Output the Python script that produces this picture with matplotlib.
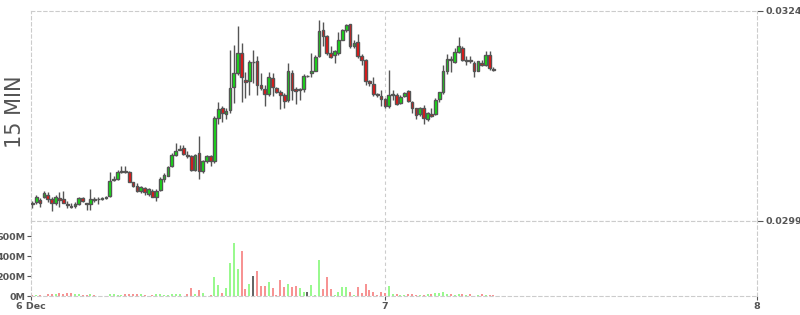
# Candlestick chart, 15 minute bars with volume underneath
import numpy as np
import pandas as pd
import matplotlib
matplotlib.use("Agg")
import matplotlib.pyplot as plt
import matplotlib.dates as mdates

# 15 minute candles starting 6 Dec 01:15
times = pd.date_range("2020-12-06 01:15", periods=120, freq="15min")

opens = [
    0.03011, 0.03013, 0.03015, 0.03019, 0.03021, 0.03016, 0.03011, 0.03017, 0.03016, 0.03010,
    0.03008, 0.03008, 0.03010, 0.03017, 0.03011, 0.03010, 0.03016, 0.03016, 0.03016, 0.03017,
    0.03020, 0.03039, 0.03040, 0.03048, 0.03050, 0.03048, 0.03036, 0.03032, 0.03026, 0.03029,
    0.03022, 0.03026, 0.03018, 0.03027, 0.03040, 0.03044, 0.03055, 0.03068, 0.03075, 0.03077,
    0.03069, 0.03067, 0.03051, 0.03071, 0.03049, 0.03061, 0.03067, 0.03061, 0.03113, 0.03125,
    0.03117, 0.03122, 0.03150, 0.03166, 0.03190, 0.03158, 0.03157, 0.03179, 0.03181, 0.03152,
    0.03147, 0.03141, 0.03160, 0.03148, 0.03143, 0.03140, 0.03134, 0.03166, 0.03147, 0.03146,
    0.03147, 0.03163, 0.03166, 0.03169, 0.03186, 0.03217, 0.03210, 0.03190, 0.03188, 0.03190,
    0.03206, 0.03217, 0.03224, 0.03198, 0.03203, 0.03186, 0.03182, 0.03157, 0.03153, 0.03141,
    0.03139, 0.03135, 0.03127, 0.03140, 0.03140, 0.03130, 0.03139, 0.03145, 0.03132, 0.03124,
    0.03117, 0.03124, 0.03112, 0.03117, 0.03117, 0.03135, 0.03143, 0.03169, 0.03183, 0.03179,
    0.03191, 0.03196, 0.03181, 0.03182, 0.03178, 0.03169, 0.03178, 0.03176, 0.03188, 0.03171,
]
highs = [
    0.03014, 0.03021, 0.03017, 0.03026, 0.03024, 0.03019, 0.03021, 0.03025, 0.03026, 0.03014,
    0.03011, 0.03013, 0.03019, 0.03018, 0.03012, 0.03028, 0.03018, 0.03019, 0.03019, 0.03020,
    0.03048, 0.03043, 0.03051, 0.03055, 0.03055, 0.03049, 0.03037, 0.03035, 0.03032, 0.03030,
    0.03029, 0.03028, 0.03028, 0.03042, 0.03047, 0.03056, 0.03071, 0.03083, 0.03080, 0.03080,
    0.03073, 0.03068, 0.03070, 0.03091, 0.03063, 0.03068, 0.03069, 0.03115, 0.03132, 0.03127,
    0.03125, 0.03194, 0.03200, 0.03222, 0.03202, 0.03167, 0.03182, 0.03194, 0.03186, 0.03166,
    0.03152, 0.03167, 0.03166, 0.03149, 0.03146, 0.03142, 0.03178, 0.03170, 0.03149, 0.03148,
    0.03165, 0.03164, 0.03190, 0.03188, 0.03229, 0.03227, 0.03211, 0.03198, 0.03194, 0.03215,
    0.03219, 0.03225, 0.03225, 0.03205, 0.03213, 0.03189, 0.03183, 0.03158, 0.03161, 0.03142,
    0.03146, 0.03137, 0.03170, 0.03146, 0.03142, 0.03140, 0.03144, 0.03146, 0.03133, 0.03125,
    0.03126, 0.03128, 0.03120, 0.03124, 0.03137, 0.03144, 0.03176, 0.03189, 0.03186, 0.03196,
    0.03209, 0.03198, 0.03186, 0.03186, 0.03180, 0.03181, 0.03182, 0.03192, 0.03192, 0.03173,
]
lows = [
    0.03005, 0.03010, 0.03007, 0.03017, 0.03013, 0.03002, 0.03009, 0.03007, 0.03011, 0.03006,
    0.03005, 0.03005, 0.03009, 0.03013, 0.03003, 0.03003, 0.03013, 0.03010, 0.03015, 0.03016,
    0.03019, 0.03038, 0.03039, 0.03047, 0.03047, 0.03036, 0.03031, 0.03025, 0.03023, 0.03021,
    0.03020, 0.03018, 0.03014, 0.03026, 0.03037, 0.03043, 0.03054, 0.03067, 0.03074, 0.03068,
    0.03065, 0.03050, 0.03050, 0.03040, 0.03047, 0.03059, 0.03055, 0.03059, 0.03106, 0.03108,
    0.03111, 0.03118, 0.03130, 0.03164, 0.03132, 0.03136, 0.03140, 0.03154, 0.03140, 0.03146,
    0.03127, 0.03139, 0.03139, 0.03142, 0.03123, 0.03125, 0.03132, 0.03134, 0.03129, 0.03134,
    0.03144, 0.03162, 0.03162, 0.03168, 0.03185, 0.03198, 0.03188, 0.03184, 0.03178, 0.03188,
    0.03205, 0.03215, 0.03196, 0.03196, 0.03184, 0.03176, 0.03152, 0.03151, 0.03139, 0.03138,
    0.03127, 0.03125, 0.03124, 0.03134, 0.03128, 0.03129, 0.03138, 0.03132, 0.03118, 0.03112,
    0.03115, 0.03106, 0.03109, 0.03114, 0.03116, 0.03132, 0.03141, 0.03165, 0.03167, 0.03178,
    0.03190, 0.03181, 0.03176, 0.03178, 0.03162, 0.03168, 0.03174, 0.03174, 0.03170, 0.03169,
]
closes = [
    0.03010, 0.03018, 0.03011, 0.03023, 0.03016, 0.03011, 0.03018, 0.03015, 0.03012, 0.03009,
    0.03007, 0.03010, 0.03017, 0.03014, 0.03010, 0.03016, 0.03015, 0.03016, 0.03017, 0.03019,
    0.03038, 0.03040, 0.03048, 0.03050, 0.03048, 0.03037, 0.03032, 0.03026, 0.03030, 0.03024,
    0.03028, 0.03019, 0.03026, 0.03040, 0.03045, 0.03054, 0.03068, 0.03073, 0.03076, 0.03070,
    0.03067, 0.03051, 0.03069, 0.03049, 0.03061, 0.03067, 0.03061, 0.03113, 0.03123, 0.03118,
    0.03121, 0.03148, 0.03166, 0.03190, 0.03161, 0.03155, 0.03179, 0.03179, 0.03152, 0.03148,
    0.03141, 0.03161, 0.03149, 0.03144, 0.03140, 0.03133, 0.03168, 0.03146, 0.03145, 0.03147,
    0.03163, 0.03163, 0.03169, 0.03185, 0.03216, 0.03210, 0.03190, 0.03185, 0.03192, 0.03205,
    0.03217, 0.03223, 0.03198, 0.03202, 0.03186, 0.03182, 0.03157, 0.03154, 0.03141, 0.03140,
    0.03135, 0.03127, 0.03140, 0.03141, 0.03129, 0.03138, 0.03142, 0.03133, 0.03124, 0.03116,
    0.03124, 0.03113, 0.03119, 0.03115, 0.03134, 0.03143, 0.03169, 0.03183, 0.03182, 0.03191,
    0.03198, 0.03182, 0.03182, 0.03180, 0.03168, 0.03180, 0.03176, 0.03188, 0.03172, 0.03170,
]
# volume in millions
volumes = [
    10, 7, 13, 3, 23, 23, 23, 33, 17, 33,
    26, 23, 17, 13, 13, 23, 13, 3, 3, 3,
    23, 17, 13, 7, 23, 17, 17, 17, 17, 13,
    3, 13, 23, 17, 13, 13, 17, 23, 23, 3,
    23, 83, 17, 63, 33, 3, 13, 190, 113, 33,
    83, 330, 528, 270, 450, 73, 123, 200, 250, 103,
    103, 143, 83, 13, 163, 93, 123, 93, 103, 83,
    43, 43, 113, 13, 360, 73, 193, 73, 13, 43,
    93, 93, 43, 13, 93, 33, 123, 63, 43, 13,
    43, 33, 103, 23, 23, 13, 7, 23, 23, 7,
    13, 13, 23, 23, 33, 33, 43, 23, 17, 7,
    23, 23, 13, 23, 3, 10, 23, 13, 13, 7,
]

x = mdates.date2num(times)
o = np.array(opens)
h = np.array(highs)
l = np.array(lows)
c = np.array(closes)

up = c > o
down = c < o
candle_colors = np.where(up, "#11e611", np.where(down, "#ee1111", "#555555"))
vol_colors = np.where(up, "#99f98e", np.where(down, "#f79393", "#666666"))

grey = "#555555"
light = "#cccccc"
dash = (0, (3, 2.5))

fig = plt.figure(figsize=(8, 3.15), dpi=100)
ax = fig.add_axes([31 / 800, 94 / 315, 726 / 800, 210 / 315])
ax_vol = fig.add_axes([31 / 800, 19 / 315, 726 / 800, 75 / 315], sharex=ax)

# candles
ax.vlines(x, l, h, color=grey, linewidth=1, zorder=2)
ax.bar(x, np.abs(c - o), bottom=np.minimum(o, c), width=0.0075,
       color=candle_colors, edgecolor=grey, linewidth=1, zorder=3)

# volume bars
ax_vol.bar(x, volumes, width=0.0055, color=vol_colors, zorder=2)

x_left = mdates.date2num(pd.Timestamp("2020-12-06 01:10"))
day7 = mdates.date2num(pd.Timestamp("2020-12-07"))
day8 = mdates.date2num(pd.Timestamp("2020-12-08"))
ax.set_xlim(x_left, day8)

ax.set_ylim(0.0299, 0.0324)
ax.yaxis.tick_right()
ax.set_yticks([0.0299, 0.0324])
ax.set_yticklabels(["0.0299", "0.0324"])
ax.tick_params(axis="y", length=4, color=grey, labelcolor=grey, labelsize=6.8, pad=2)
ax.tick_params(axis="x", bottom=False, labelbottom=False)

ax_vol.set_ylim(0, 750)
ax_vol.set_yticks([0, 200, 400, 600])
ax_vol.set_yticklabels(["0M", "200M", "400M", "600M"])
ax_vol.set_xticks([x_left, day7, day8])
ax_vol.set_xticklabels(["6 Dec", "7", "8"])
ax_vol.tick_params(axis="both", length=3, color=grey, labelcolor=grey, labelsize=6.8, pad=1)

for a in (ax, ax_vol):
    for s in a.spines.values():
        s.set_linestyle(dash)
        s.set_color(light)
        s.set_linewidth(0.8)
    a.axvline(day7, color=light, linestyle=dash, linewidth=0.8, zorder=1)
    for lab in a.get_xticklabels() + a.get_yticklabels():
        lab.set_fontweight("bold")

fig.text(15 / 800, 1 - 112 / 315, "15 MIN", rotation=90, fontsize=15,
         color=grey, ha="center", va="center")

fig.savefig("out.png", dpi=100)
